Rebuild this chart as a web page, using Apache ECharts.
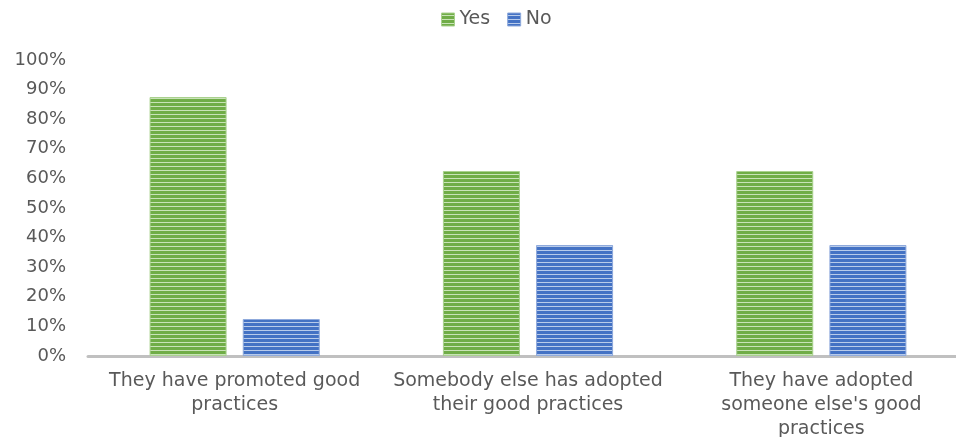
<!DOCTYPE html>
<html><head><meta charset="utf-8">
<script src="https://cdn.jsdelivr.net/npm/echarts@6/dist/echarts.min.js"></script>
<style>html,body{margin:0;padding:0;background:#fff}#c{width:956px;height:437px}</style>
</head><body><div id="c"></div>
<script>
const categories = ["They have promoted good\npractices", "Somebody else has adopted\ntheir good practices", "They have adopted\nsomeone else's good\npractices"];
const yesValues = [87.5, 62.5, 62.5];
const noValues = [12.5, 37.5, 37.5];
const seriesNames = ["Yes", "No"];

function stripe(dark, light) {
  const c = document.createElement('canvas');
  c.width = 8; c.height = 4;
  const g = c.getContext('2d');
  g.fillStyle = dark; g.fillRect(0, 0, 8, 4);
  g.fillStyle = light; g.fillRect(0, 2, 8, 1);
  return {image: c, repeat: 'repeat'};
}
const greenPat = stripe('#70ad47', '#c9e3b8');
const bluePat = stripe('#4472c4', '#b8cbea');

const chart = echarts.init(document.getElementById('c'));
const font = '"DejaVu Sans", sans-serif';
chart.setOption({
  animation: false,
  textStyle: {fontFamily: font},
  legend: {
    top: 5, left: 436, itemWidth: 13, itemHeight: 13, itemGap: 17, icon: 'rect',
    textStyle: {fontSize: 19, color: '#595959', fontFamily: font},
    data: [{name: seriesNames[0], itemStyle: {color: greenPat, borderColor: '#a9d18e', borderWidth: 1}}, {name: seriesNames[1], itemStyle: {color: bluePat, borderColor: '#8faadc', borderWidth: 1}}]
  },
  grid: {left: 88, right: -12, top: 60, bottom: 81, outerBoundsMode: 'none', containLabel: false},
  xAxis: {
    type: 'category', data: categories,
    axisLine: {lineStyle: {color: '#c0c0c0', width: 3}},
    axisTick: {show: false},
    axisLabel: {fontSize: 19, color: '#595959', margin: 13, lineHeight: 24, interval: 0, fontFamily: font}
  },
  yAxis: {
    type: 'value', min: 0, max: 100, interval: 10,
    axisLine: {show: false}, axisTick: {show: false}, splitLine: {show: false},
    axisLabel: {fontSize: 18, color: '#595959', margin: 22, formatter: v => v + '%', fontFamily: font}
  },
  series: [
    {name: seriesNames[0], type: 'bar', data: yesValues, barWidth: 77, barGap: '21%', itemStyle: {color: greenPat, borderColor: '#a9d18e', borderWidth: 1}},
    {name: seriesNames[1], type: 'bar', data: noValues, barWidth: 77, barGap: '21%', itemStyle: {color: bluePat, borderColor: '#8faadc', borderWidth: 1}}
  ]
});
</script></body></html>
